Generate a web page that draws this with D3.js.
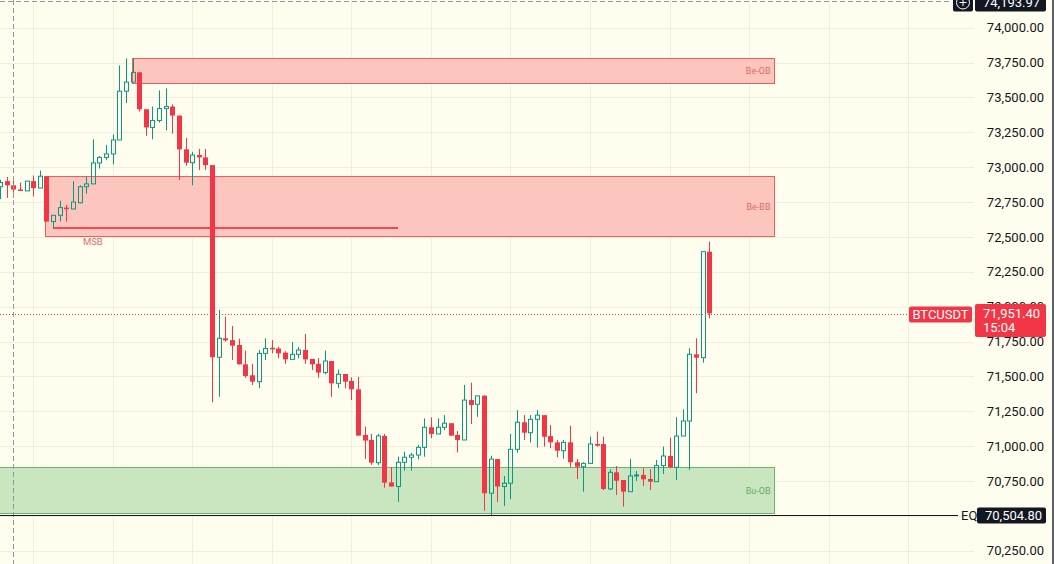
<html>
<head>
    <style>
        body { margin: 0; background: #fffdee; }
        svg { display: block; font-family: Roboto, "Noto Sans", sans-serif; }
    </style>
</head>
<body>
<svg width='1054' height='564'></svg>
<script src='https://cdnjs.cloudflare.com/ajax/libs/d3/7.8.5/d3.min.js'></script>
<script>
    // candle data (one per bar, left to right)
    const opens = [72860, 72900, 72870, 72840, 72830, 72900, 72850, 72935, 72610, 72655,
        72710, 72700, 72745, 72860, 72880, 73030, 73070, 73095, 73195, 73545,
        73610, 73680, 73415, 73285, 73335, 73420, 73435, 73370, 73128, 73032,
        73087, 73070, 73015, 71637, 71773, 71760, 71725, 71586, 71508, 71462,
        71665, 71705, 71700, 71670, 71622, 71658, 71689, 71625, 71590, 71527,
        71610, 71450, 71517, 71467, 71407, 71080, 71044, 70881, 71073, 70740,
        70710, 70884, 70920, 70936, 70991, 71135, 71087, 71135, 71164, 71080,
        71044, 71330, 71300, 71362, 70662, 70907, 70710, 70734, 70977, 71171,
        71096, 71192, 71222, 71072, 71027, 70967, 71027, 70884, 70852, 70876,
        71015, 71015, 70693, 70812, 70757, 70673, 70786, 70793, 70764, 70745,
        70860, 70929, 70848, 71072, 71180, 71658, 71634, 72394];
    const highs = [72910, 72930, 72910, 72890, 72900, 72940, 72975, 72935, 72655, 72760,
        72730, 72900, 72870, 72930, 73200, 73080, 73160, 73235, 73730, 73780,
        73780, 73680, 73415, 73435, 73550, 73565, 73450, 73370, 73210, 73110,
        73130, 73130, 73015, 71976, 71928, 71861, 71770, 71685, 71590, 71689,
        71773, 71760, 71710, 71680, 71746, 71710, 71804, 71625, 71630, 71685,
        71610, 71550, 71517, 71493, 71497, 71140, 71087, 71087, 71087, 70848,
        70924, 70960, 70950, 71008, 71199, 71206, 71199, 71222, 71164, 71108,
        71438, 71455, 71360, 71362, 70931, 70907, 70786, 71087, 71258, 71222,
        71222, 71258, 71222, 71151, 71044, 71044, 71146, 70907, 70884, 71068,
        71104, 71068, 70834, 70857, 70757, 70907, 70822, 70841, 70834, 70900,
        70996, 71060, 71207, 71264, 71701, 71773, 72394, 72466];
    const lows = [72770, 72780, 72780, 72830, 72830, 72790, 72850, 72610, 72560, 72610,
        72610, 72700, 72740, 72810, 72880, 72990, 73050, 73020, 73195, 73460,
        73610, 73400, 73225, 73200, 73320, 73265, 73240, 72908, 73010, 72870,
        72980, 72980, 71314, 71354, 71750, 71617, 71586, 71490, 71438, 71415,
        71617, 71665, 71630, 71590, 71620, 71630, 71590, 71545, 71490, 71515,
        71354, 71415, 71415, 71330, 71075, 70908, 70865, 70865, 70702, 70710,
        70601, 70824, 70824, 70905, 70924, 71056, 71087, 71114, 71075, 70955,
        71044, 71159, 71210, 70537, 70506, 70601, 70571, 70619, 70953, 71044,
        71025, 70990, 70996, 70985, 70920, 70910, 70848, 70764, 70673, 70876,
        70996, 70685, 70685, 70650, 70566, 70673, 70750, 70714, 70685, 70745,
        70800, 70841, 70757, 71072, 70829, 71379, 71598, 71916];
    const closes = [72890, 72870, 72840, 72832, 72900, 72850, 72935, 72610, 72655, 72710,
        72700, 72750, 72860, 72880, 73030, 73070, 73095, 73195, 73545, 73610,
        73680, 73415, 73285, 73335, 73420, 73435, 73370, 73128, 73032, 73087,
        73070, 73015, 71637, 71773, 71758, 71720, 71586, 71503, 71462, 71665,
        71700, 71696, 71665, 71622, 71658, 71689, 71622, 71586, 71527, 71610,
        71450, 71515, 71462, 71407, 71075, 71040, 70881, 71073, 70738, 70710,
        70884, 70920, 70936, 70991, 71135, 71087, 71135, 71164, 71075, 71044,
        71330, 71295, 71360, 70662, 70907, 70710, 70734, 70977, 71171, 71096,
        71192, 71222, 71067, 71027, 70967, 71027, 70884, 70852, 70876, 71015,
        71003, 70693, 70812, 70752, 70673, 70786, 70793, 70762, 70745, 70860,
        70929, 70848, 71072, 71180, 71658, 71634, 72394, 71951.4];

    const priceTicks = [70250, 70500, 70750, 71000, 71250, 71500, 71750, 72000,
        72250, 72500, 72750, 73000, 73250, 73500, 73750, 74000];
    const gridBars = [5, 17, 29, 41, 53, 65, 77, 89, 101, 113, 125, 137];

    // drawn zones: price range and bar range
    const zoneLabels = ['Be-OB', 'Be-BB', 'Bu-OB'];
    const zoneTops = [73782, 72935, 70852];
    const zoneBottoms = [73602, 72503, 70522];
    const zoneFrom = [20, 7, -5];
    const zoneTo = [116.8, 116.8, 116.8];
    const zoneBear = [true, true, false];

    const msb = {price: 72563, from: 8, to: 60, labelAt: 14};
    const lastPrice = 71951.4;
    const eqPrice = 70504.8;
    const crossPrice = 74193.97;
    const crossBar = 2;

    const W = 1054, H = 564;
    const upColor = '#089981', downColor = '#f23645';
    const svg = d3.select('svg');

    const x = d3.scaleLinear().domain([0, closes.length - 1]).range([0, 709.3]);
    const y = d3.scaleLinear().domain([70250, 74000]).range([550.7, 27.7]);
    const fmt = d3.format(',.2f');

    svg.append('rect').attr('width', W).attr('height', H).attr('fill', '#fffdee');

    // grid
    svg.append('g').selectAll('line').data(priceTicks).enter().append('line')
        .attr('x1', 0).attr('x2', 974)
        .attr('y1', d => Math.round(y(d)) + 0.5).attr('y2', d => Math.round(y(d)) + 0.5)
        .attr('stroke', '#f0eedd');
    svg.append('g').selectAll('line').data(gridBars).enter().append('line')
        .attr('x1', d => Math.round(x(d)) + 0.5).attr('x2', d => Math.round(x(d)) + 0.5)
        .attr('y1', 0).attr('y2', H)
        .attr('stroke', '#f0eedd');

    // zones
    const zones = zoneLabels.map((label, i) => ({
        label, top: zoneTops[i], bottom: zoneBottoms[i], from: zoneFrom[i], to: zoneTo[i], bear: zoneBear[i]
    }));
    const zg = svg.append('g');
    zones.forEach(z => {
        const x0 = Math.max(-2, Math.round(x(z.from)) - 0.5), x1 = Math.round(x(z.to)) + 0.5;
        const y0 = Math.round(y(z.top)) + 0.5, y1 = Math.round(y(z.bottom)) + 0.5;
        zg.append('rect')
            .attr('x', x0).attr('y', y0).attr('width', x1 - x0).attr('height', y1 - y0)
            .attr('fill', z.bear ? '#fcc6bf' : '#c9e6c1')
            .attr('stroke', z.bear ? '#ec5d5d' : '#6bb36b').attr('stroke-width', 1);
        zg.append('text')
            .attr('x', x1 - 4).attr('y', (y0 + y1) / 2).attr('dy', '0.35em')
            .attr('text-anchor', 'end').attr('font-size', 9)
            .attr('fill', z.bear ? '#e46a6a' : '#62ad62')
            .text(z.label);
    });

    // MSB line
    svg.append('line')
        .attr('x1', Math.round(x(msb.from))).attr('x2', Math.round(x(msb.to)))
        .attr('y1', y(msb.price)).attr('y2', y(msb.price))
        .attr('stroke', '#ee4b55').attr('stroke-width', 2);
    svg.append('text')
        .attr('x', x(msb.labelAt)).attr('y', y(msb.price) + 17)
        .attr('text-anchor', 'middle').attr('font-size', 9.5).attr('fill', '#e07070')
        .text('MSB');

    // candles
    const bars = closes.map((c, i) => ({i, o: opens[i], h: highs[i], l: lows[i], c}));
    const cg = svg.append('g');
    bars.forEach(b => {
        const cx = Math.round(x(b.i));
        const up = b.c >= b.o;
        const yTop = y(Math.max(b.o, b.c)), yBot = y(Math.min(b.o, b.c));
        const col = up ? upColor : downColor;
        if (up) {
            cg.append('line').attr('x1', cx + 0.5).attr('x2', cx + 0.5)
                .attr('y1', y(b.h)).attr('y2', yTop).attr('stroke', col);
            cg.append('line').attr('x1', cx + 0.5).attr('x2', cx + 0.5)
                .attr('y1', yBot).attr('y2', y(b.l)).attr('stroke', col);
            cg.append('rect').attr('x', cx - 1.5).attr('width', 4)
                .attr('y', yTop).attr('height', Math.max(1, yBot - yTop))
                .attr('fill', 'none').attr('stroke', col);
        } else {
            cg.append('line').attr('x1', cx + 0.5).attr('x2', cx + 0.5)
                .attr('y1', y(b.h)).attr('y2', y(b.l)).attr('stroke', col);
            cg.append('rect').attr('x', cx - 2).attr('width', 5)
                .attr('y', yTop).attr('height', Math.max(1.5, yBot - yTop))
                .attr('fill', col);
        }
    });

    // crosshair
    svg.append('line')
        .attr('x1', 0).attr('x2', 950).attr('y1', Math.round(y(crossPrice)) + 0.5).attr('y2', Math.round(y(crossPrice)) + 0.5)
        .attr('stroke', '#9598a1').attr('stroke-dasharray', '5,3');
    svg.append('line')
        .attr('x1', Math.round(x(crossBar)) + 0.5).attr('x2', Math.round(x(crossBar)) + 0.5)
        .attr('y1', 0).attr('y2', H)
        .attr('stroke', '#9598a1').attr('stroke-dasharray', '5,3');

    // last price dotted line
    const lastY = Math.round(y(lastPrice)) + 1.5;
    svg.append('line')
        .attr('x1', 0).attr('x2', 909).attr('y1', lastY).attr('y2', lastY)
        .attr('stroke', downColor).attr('stroke-dasharray', '1,2');

    // EQ line
    const eqY = Math.round(y(eqPrice)) + 0.5;
    svg.append('line').attr('x1', 0).attr('x2', 958).attr('y1', eqY).attr('y2', eqY)
        .attr('stroke', '#131722');
    svg.append('text').attr('x', 961).attr('y', eqY).attr('dy', '0.36em')
        .attr('font-size', 13).attr('fill', '#131722').text('EQ');

    // price axis
    const axis = d3.axisRight(y).tickValues(priceTicks).tickFormat(fmt).tickSize(0).tickPadding(0);
    const ag = svg.append('g').attr('transform', 'translate(1044,0)').call(axis);
    ag.select('.domain').remove();
    ag.selectAll('text').attr('text-anchor', 'end').attr('font-size', 13)
        .attr('fill', '#131722').attr('font-family', 'Roboto, sans-serif');

    // axis labels
    function tag (x0, yc, w, h, fill, lines, anchor) {
        const g = svg.append('g');
        g.append('rect').attr('x', x0).attr('y', yc - h / 2).attr('width', w).attr('height', h)
            .attr('rx', 2).attr('fill', fill);
        lines.forEach((t, k) => {
            g.append('text')
                .attr('x', anchor === 'middle' ? x0 + w / 2 : x0 + 8)
                .attr('y', yc - (lines.length - 1) * 7 + k * 14).attr('dy', '0.36em')
                .attr('text-anchor', anchor).attr('font-size', 13).attr('fill', '#fff')
                .text(t);
        });
    }
    tag(909, lastY, 63, 16, downColor, ['BTCUSDT'], 'middle');
    tag(975, lastY + 6, 71, 33, downColor, [fmt(lastPrice), '15:04'], 'start');
    tag(977, eqY, 69, 16, '#131722', [fmt(eqPrice)], 'start');
    tag(975, Math.round(y(crossPrice)) + 1, 71, 19, '#131722', [fmt(crossPrice)], 'start');

    // plus button on crosshair
    const pb = svg.append('g').attr('transform', 'translate(963,' + (Math.round(y(crossPrice)) + 1.5) + ')');
    pb.append('rect').attr('x', -10).attr('y', -9).attr('width', 20).attr('height', 18).attr('rx', 2).attr('fill', '#131722');
    pb.append('circle').attr('r', 6.5).attr('fill', 'none').attr('stroke', '#fff');
    pb.append('path').attr('d', 'M-3.5,0H3.5M0,-3.5V3.5').attr('stroke', '#fff');

    svg.append('rect').attr('x', 1052).attr('y', 0).attr('width', 2).attr('height', H).attr('fill', '#5d606b');
</script>
</body>
</html>
